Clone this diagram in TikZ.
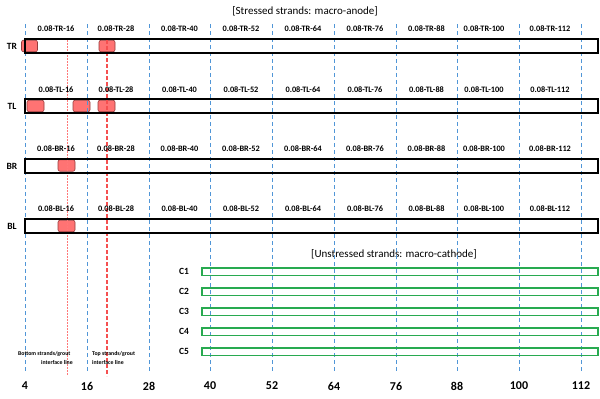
\documentclass[tikz,border=0pt]{standalone}
\usepackage{fontspec}
\setmainfont{Carlito}
\definecolor{gridblue}{RGB}{80,150,215}
\definecolor{padred}{RGB}{255,115,115}
\definecolor{padedge}{RGB}{150,60,60}
\definecolor{linered}{RGB}{245,80,80}
\definecolor{dotred}{RGB}{255,120,120}
\definecolor{cathgreen}{RGB}{40,170,80}
\tikzset{
  gridline/.style={draw=gridblue,line width=1pt,dash pattern=on 4pt off 3pt},
  botline/.style={draw=dotred,line width=0.9pt,dash pattern=on 1.5pt off 1.5pt},
  topline/.style={draw=linered,line width=1.4pt,dash pattern=on 4pt off 2pt},
  anodebox/.style={draw=black,line width=1.3pt},
  cathbox/.style={draw=cathgreen,line width=1.3pt},
  pad/.style={draw=padedge,fill=padred,line width=0.6pt,rounded corners=2pt,inner sep=0pt,minimum height=11.5pt},
  smalllab/.style={font=\fontsize{8.3}{8.5}\selectfont\bfseries,inner sep=0pt},
  rowlab/.style={font=\fontsize{9.5}{9.5}\selectfont\bfseries,inner sep=0pt},
  numlab/.style={font=\fontsize{12}{12}\selectfont\bfseries,inner sep=0pt},
  titlelab/.style={font=\fontsize{11}{12}\selectfont,inner sep=0pt},
  notelab/.style={font=\fontsize{5.8}{6}\selectfont\bfseries,inner sep=0pt},
}
\begin{document}
\begin{tikzpicture}[x=1pt,y=-1pt]
\useasboundingbox[fill=white] (0,0) rectangle (600,399);
% titles
\node[titlelab] (ttop) at (305,11) {[Stressed strands: macro-anode]};
\node[titlelab] (tbot) at (394,254) {[Unstressed strands: macro-cathode]};
% pads (drawn beneath lines)
\node[pad,minimum width=16pt] (p1) at (29.5,46) {};
\node[pad,minimum width=16pt] (p2) at (107,46) {};
\node[pad,minimum width=17pt] (p3) at (35.5,106) {};
\node[pad,minimum width=17pt] (p4) at (81.5,106) {};
\node[pad,minimum width=17pt] (p5) at (106.5,106) {};
\node[pad,minimum width=17pt] (p6) at (66.5,165.5) {};
\node[pad,minimum width=17pt] (p7) at (66.5,226) {};
% grid lines and bottom numbers
\foreach \v/\x in {4/25,16/87,28/149,40/210,52/272,64/334,76/396,88/457,100/519,112/581}{
  \coordinate (g\v t) at (\x,24);
  \coordinate (g\v b) at (\x,373);
  \draw[gridline] (g\v t) -- (g\v b);
  \node[numlab] (n\v) at (\x,386) {\v};
}
% red interface lines
\coordinate (rb1) at (67,40);
\coordinate (rb2) at (67,376);
\coordinate (rt1) at (107,40);
\coordinate (rt2) at (107,376);
\draw[botline] (rb1) -- (rb2);
\draw[topline] (rt1) -- (rt2);
% anode boxes
\foreach \r/\ya/\yb/\ym/\ly in {TR/39/53/46/29,TL/99/113/106/90,BR/159/173/166/149,BL/219/233/226/209}{
  \draw[anodebox] (25,\ya) rectangle (598,\yb);
  \node[rowlab] (lab\r) at (12,\ym) {\r};
  \foreach \v/\c in {16/56,28/116,40/179.5,52/241,64/303,76/365,88/426.5,100/484,112/550}{
    \node[smalllab] (s\r\v) at (\c,\ly) {0.08-\r-\v};
  }
}
% cathode boxes
\foreach \i/\ya/\yb/\ym in {1/268/275.5/271.5,2/288/295.5/291.5,3/308/315.5/311.5,4/328/335.5/331.5,5/348/355.5/351.5}{
  \draw[cathbox] (202,\ya) rectangle (598,\yb);
  \node[rowlab] (c\i) at (184,\ym) {C\i};
}
% notes
\node[notelab,anchor=west] (nb1) at (18,354) {Bottom strands/grout};
\node[notelab,anchor=west] (nb2) at (41,362) {interface line};
\node[notelab,anchor=west] (nt1) at (92,354) {Top strands/grout};
\node[notelab,anchor=west] (nt2) at (92,362) {interface line};
\end{tikzpicture}
\end{document}
